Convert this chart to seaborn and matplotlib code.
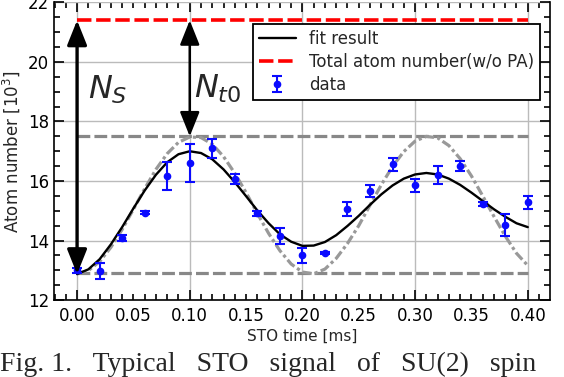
import numpy as np
import pandas as pd
import matplotlib
matplotlib.use("Agg")
import matplotlib.pyplot as plt
import seaborn as sns
from matplotlib.ticker import MultipleLocator, FuncFormatter

# Données
t_data = [0.00, 0.02, 0.04, 0.06, 0.08, 0.10, 0.12, 0.14, 0.16, 0.18, 0.20,
          0.22, 0.24, 0.26, 0.28, 0.30, 0.32, 0.34, 0.36, 0.38, 0.40]
n_data = [13.00, 12.98, 14.09, 14.94, 16.17, 16.60, 17.10, 16.07, 14.91, 14.16, 13.51,
          13.59, 15.06, 15.66, 16.56, 15.85, 16.20, 16.50, 15.23, 14.52, 15.28]
n_err = [0.08, 0.26, 0.10, 0.04, 0.48, 0.65, 0.31, 0.17, 0.08, 0.27, 0.25,
         0.03, 0.25, 0.20, 0.21, 0.23, 0.29, 0.17, 0.08, 0.38, 0.21]

# courbe "fit result" (lue tous les 0.01 ms)
t_curve = [round(0.01 * i, 2) for i in range(41)]
n_fit = [12.87, 13.03, 13.37, 13.87, 14.45, 15.08, 15.68, 16.21, 16.63, 16.90,
         17.00, 16.94, 16.73, 16.39, 15.96, 15.49, 15.01, 14.58, 14.21, 13.96,
         13.82, 13.83, 13.95, 14.18, 14.49, 14.83, 15.20, 15.55, 15.85, 16.08,
         16.22, 16.27, 16.22, 16.08, 15.87, 15.61, 15.33, 15.05, 14.80, 14.58,
         14.45]
# courbe grise pointillée (sans amortissement)
n_ideal = [12.88, 12.99, 13.29, 13.77, 14.37, 15.05, 15.74, 16.39, 16.92, 17.30,
           17.48, 17.46, 17.24, 16.82, 16.26, 15.61, 14.91, 14.24, 13.66, 13.21,
           12.94, 12.88, 13.04, 13.40, 13.90, 14.50, 15.19, 15.87, 16.49, 16.99,
           17.34, 17.50, 17.45, 17.19, 16.75, 16.17, 15.50, 14.81, 14.15, 13.57,
           13.16]

n_total = 21.4      # Total atom number (w/o PA)
n_upper = 17.5
n_lower = 12.9
t_arrow = [0.00, 0.10]

df_curve = pd.DataFrame({"t": t_curve, "fit": n_fit, "ideal": n_ideal})

sns.set_theme(style="ticks")
plt.rcParams["font.family"] = ["DejaVu Sans"]
plt.rcParams["mathtext.fontset"] = "dejavusans"

fig = plt.figure(figsize=(5.64, 3.77), dpi=100)
ax = fig.add_axes([0.0957, 0.2042, 0.879, 0.7892])

ax.grid(True, which="major", color="#bbbbbb", lw=1.0)
ax.set_axisbelow(True)

ax.hlines([n_upper, n_lower], t_curve[0], t_curve[-1], colors="#888888",
          lw=2.3, linestyles=(0, (4, 1.3)), zorder=2)
sns.lineplot(data=df_curve, x="t", y="ideal", ax=ax, color="#999999", lw=2.3,
             dashes=False, zorder=2, legend=False)
ax.lines[-1].set_dashes((3, 1, 1, 1))
sns.lineplot(data=df_curve, x="t", y="fit", ax=ax, color="black", lw=1.7,
             zorder=3, label="fit result")
ax.hlines(n_total, t_curve[0], t_curve[-1], colors="#ff0000", lw=2.6,
          linestyles=(0, (4, 1.3)), zorder=3, label="Total atom number(w/o PA)")
ax.errorbar(t_data, n_data, yerr=n_err, fmt="o", color="#0a0aff", ms=4.5,
            elinewidth=1.5, capsize=3.5, capthick=1.5, zorder=4, label="data")

# flèches N_S et N_t0
ax.annotate("", xy=(t_arrow[0], n_total), xytext=(t_arrow[0], n_fit[0]),
            arrowprops=dict(arrowstyle="<|-|>,head_length=0.75,head_width=0.3",
                            mutation_scale=20, lw=2.4, color="black",
                            shrinkA=0, shrinkB=0), zorder=5)
ax.annotate("", xy=(t_arrow[1], n_total), xytext=(t_arrow[1], n_upper),
            arrowprops=dict(arrowstyle="<|-|>,head_length=0.75,head_width=0.3",
                            mutation_scale=20, lw=1.8, color="black",
                            shrinkA=0, shrinkB=0), zorder=5)
ax.text(0.0275, 19.05, r"$N_S$", fontsize=23, ha="center", va="center")
ax.text(0.125, 19.1, r"$N_{t0}$", fontsize=23, ha="center", va="center")

ax.set_xlim(-0.0205, 0.4195)
ax.set_ylim(12, 22)
ax.xaxis.set_major_locator(MultipleLocator(0.1))
ax.xaxis.set_minor_locator(MultipleLocator(0.01))
ax.yaxis.set_major_locator(MultipleLocator(2))
ax.yaxis.set_minor_locator(MultipleLocator(0.5))
ax.xaxis.set_major_formatter(FuncFormatter(lambda v, p: f"{v:.2f}"))


def minor_fmt(v, p):
    k = round(v / 0.05)
    if abs(v - k * 0.05) < 1e-6 and k % 2 == 1:
        return f"{v:.2f}"
    return ""


ax.xaxis.set_minor_formatter(FuncFormatter(minor_fmt))
ax.tick_params(which="both", direction="in", top=True, right=True,
               labelsize=12, colors="black", width=1.2)
ax.tick_params(which="major", length=7)
ax.tick_params(which="minor", length=4)
ax.tick_params(axis="x", which="both", pad=5)
for s in ["left", "right", "bottom"]:
    ax.spines[s].set_color("black")
    ax.spines[s].set_linewidth(1.2)
ax.spines["top"].set_visible(False)

ax.set_xlabel("STO time [ms]", fontsize=11, labelpad=3)
ax.set_ylabel(r"Atom number [10$^3$]", fontsize=12, labelpad=4)

leg = ax.legend(loc="upper right", bbox_to_anchor=(0.98, 0.928),
                borderaxespad=0, fontsize=12, frameon=True, fancybox=False,
                framealpha=1, edgecolor="black", handlelength=2.2,
                handletextpad=0.8, labelspacing=0.3, borderpad=0.35)
leg.get_frame().set_linewidth(1.3)

fig.text(0.0, 1 - 352 / 377, "Fig. 1.   Typical   STO   signal   of   SU(2)   spin",
         family="Liberation Serif", fontsize=20, va="top", ha="left")

fig.savefig("out.png", dpi=100)
